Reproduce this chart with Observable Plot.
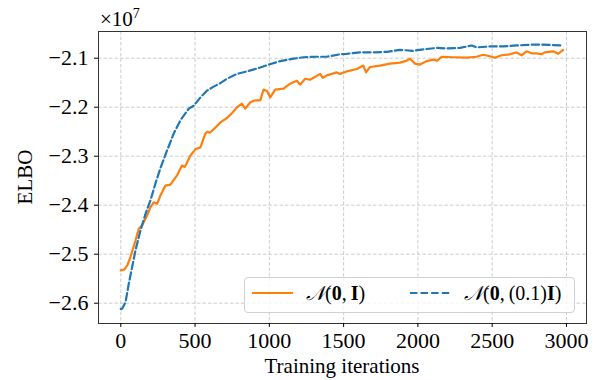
<!DOCTYPE html>
<html>
<head>
<meta charset="utf-8">
<script src="https://cdn.jsdelivr.net/npm/d3@7"></script>
<script src="https://cdn.jsdelivr.net/npm/@observablehq/plot@0.6"></script>
<style>
  html, body { margin: 0; padding: 0; background: white; }
  #wrap { position: relative; width: 599px; height: 380px; font-family: "Liberation Serif", serif; color: #000; }
  #wrap svg { position: absolute; left: 0; top: 0; }
  .ov { position: absolute; white-space: nowrap; line-height: 1; }
</style>
</head>
<body>
<div id="wrap"></div>
<script>
// ELBO values in units of 1e7
const orangeIter = [0,25,45,65,99,121,144,177,200,222,245,267,300,334,379,412,430,441,468,502,536,569,585,600,636,670,715,749,782,816,838,872,905,939,961,984,1006,1040,1096,1140,1185,1208,1241,1275,1342,1360,1387,1454,1476,1521,1589,1633,1651,1678,1745,1812,1880,1925,1947,1981,2014,2059,2104,2130,2160,2238,2328,2395,2440,2485,2518,2563,2619,2664,2698,2731,2765,2798,2832,2854,2910,2944,2977];
const orangeVal = [-2.533,-2.531,-2.522,-2.506,-2.472,-2.448,-2.441,-2.421,-2.404,-2.394,-2.397,-2.380,-2.360,-2.358,-2.339,-2.319,-2.322,-2.316,-2.299,-2.286,-2.282,-2.254,-2.250,-2.252,-2.242,-2.231,-2.222,-2.212,-2.200,-2.193,-2.203,-2.190,-2.186,-2.186,-2.164,-2.167,-2.180,-2.164,-2.162,-2.152,-2.146,-2.154,-2.142,-2.144,-2.132,-2.140,-2.135,-2.129,-2.132,-2.127,-2.122,-2.115,-2.129,-2.118,-2.115,-2.111,-2.109,-2.105,-2.101,-2.111,-2.113,-2.106,-2.103,-2.105,-2.097,-2.098,-2.099,-2.097,-2.093,-2.096,-2.099,-2.094,-2.092,-2.088,-2.094,-2.086,-2.090,-2.090,-2.092,-2.088,-2.086,-2.091,-2.083];

const blueIter = [0,10,32,54,76,99,132,166,200,233,267,312,356,401,457,491,536,581,625,670,715,782,849,939,995,1073,1110,1163,1230,1320,1387,1476,1521,1611,1700,1790,1880,1969,2036,2126,2193,2283,2362,2395,2485,2574,2664,2798,2888,2977];
const blueVal = [-2.612,-2.611,-2.598,-2.560,-2.527,-2.492,-2.452,-2.418,-2.390,-2.356,-2.324,-2.288,-2.254,-2.227,-2.203,-2.197,-2.180,-2.166,-2.158,-2.151,-2.142,-2.132,-2.127,-2.119,-2.113,-2.106,-2.104,-2.101,-2.098,-2.097,-2.097,-2.092,-2.091,-2.088,-2.088,-2.087,-2.083,-2.085,-2.082,-2.079,-2.080,-2.079,-2.074,-2.078,-2.076,-2.076,-2.074,-2.072,-2.073,-2.074];

const xTicks = [0, 500, 1000, 1500, 2000, 2500, 3000];
const yTicks = [-2.6, -2.5, -2.4, -2.3, -2.2, -2.1];
const seriesNames = ["N(0,I)", "N(0,(0.1)I)"];
const seriesColors = ["#ff7f0e", "#1f77b4"];

const orange = orangeIter.map((x, i) => ({x, y: orangeVal[i]}));
const blue = blueIter.map((x, i) => ({x, y: blueVal[i]}));

const fmtY = d => (d < 0 ? "\u2212" : "") + Math.abs(d).toFixed(1);
const gridStyle = {stroke: "#b0b0b0", strokeOpacity: 0.8, strokeWidth: 0.8, strokeDasharray: "3.5,2"};
const FONT = "'Liberation Serif', serif";

const chart = Plot.plot({
  width: 599,
  height: 380,
  marginLeft: 98,
  marginRight: 13,
  marginTop: 31,
  marginBottom: 57,
  style: {fontFamily: FONT, fontSize: "21px", background: "white", color: "#000", overflow: "visible"},
  x: {domain: [-150, 3135], label: null},
  y: {domain: [-2.6414, -2.0455], label: null},
  marks: [
    Plot.gridX(xTicks, gridStyle),
    Plot.gridY(yTicks, gridStyle),
    Plot.line(orange, {x: "x", y: "y", stroke: seriesColors[0], strokeWidth: 2.2}),
    Plot.line(blue, {x: "x", y: "y", stroke: seriesColors[1], strokeWidth: 2.2, strokeDasharray: "7.4,3.2"}),
    Plot.frame({stroke: "#333", strokeWidth: 1}),
    Plot.axisX(xTicks, {tickSize: 4, tickPadding: 5, tickFormat: d => String(d), label: null, fontSize: 22}),
    Plot.axisY(yTicks, {tickSize: 4, tickPadding: 6, tickFormat: fmtY, label: null, fontSize: 22})
  ]
});
chart.querySelectorAll("text").forEach(t => { t.style.fontFamily = FONT; });
chart.querySelectorAll("g").forEach(g => { g.style.fontFamily = FONT; });
const wrap = document.getElementById("wrap");
wrap.appendChild(chart);

function ov(html, css) {
  const d = document.createElement("div");
  d.className = "ov";
  d.innerHTML = html;
  Object.assign(d.style, css);
  wrap.appendChild(d);
  return d;
}

// offset text
ov('\u00d710<sup style="font-size:14px;vertical-align:0;position:relative;top:-8px">7</sup>', {left: "100px", top: "9px", fontSize: "21px"});
// axis titles
ov("Training iterations", {left: "342px", top: "356px", fontSize: "21px", transform: "translateX(-50%)"});
ov("ELBO", {left: "25px", top: "177px", fontSize: "21px", transform: "translate(-50%,-50%) rotate(-90deg)"});

// legend
const leg = ov("", {left: "244px", top: "277px", width: "329px", height: "34px", border: "1px solid #d0d0d0", borderRadius: "4px", background: "rgba(255,255,255,0.8)"});
const legSvg = d3.create("svg").attr("width", 329).attr("height", 34).style("position", "absolute").style("left", 0).style("top", 0);
legSvg.append("line").attr("x1", 7).attr("x2", 48).attr("y1", 15).attr("y2", 15).attr("stroke", seriesColors[0]).attr("stroke-width", 2.2);
legSvg.append("line").attr("x1", 165).attr("x2", 206).attr("y1", 15).attr("y2", 15).attr("stroke", seriesColors[1]).attr("stroke-width", 2.2).attr("stroke-dasharray", "7.4,3.2");
leg.appendChild(legSvg.node());
const lab1 = '<span style="font-style:italic">\ud835\udca9</span>(<b>0</b>,\u2009<b>I</b>)';
const lab2 = '<span style="font-style:italic">\ud835\udca9</span>(<b>0</b>,\u2009(0.1)<b>I</b>)';
ov(lab1, {left: "306px", top: "283px", fontSize: "20px"}).title = seriesNames[0];
ov(lab2, {left: "464px", top: "283px", fontSize: "20px"}).title = seriesNames[1];
</script>
</body>
</html>
